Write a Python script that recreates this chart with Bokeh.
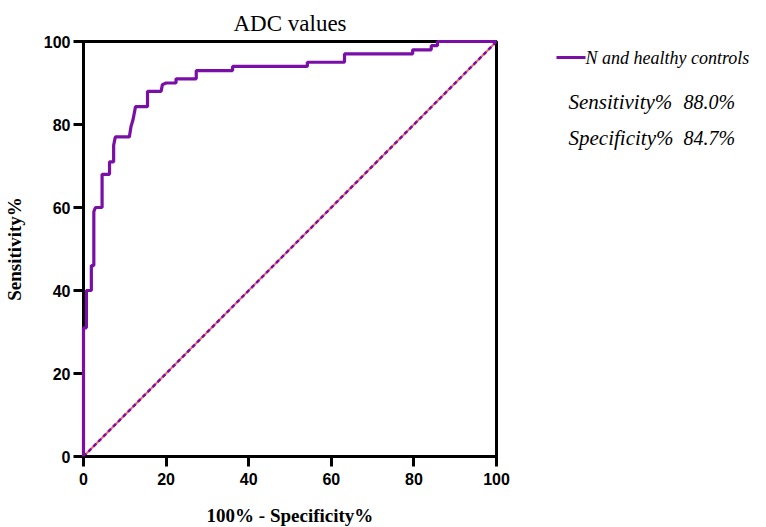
from bokeh.plotting import figure
from bokeh.layouts import row
from bokeh.models import Range1d, FixedTicker
from bokeh.core.properties import value
from bokeh.embed import file_html
from bokeh.resources import INLINE

# ROC curve (100% - Specificity%, Sensitivity%)
fpr = [0, 0, 0.7, 0.7, 1.9, 1.9, 2.5, 2.5, 2.9, 4.5,
       4.5, 6.3, 6.3, 7.3, 7.3, 7.7, 11.1, 11.5, 12.0, 12.6,
       15.5, 15.5, 18.8, 19.1, 20.0, 22.4, 22.4, 27.3, 27.3, 36.1,
       36.1, 54.2, 54.2, 63.2, 63.2, 79.7, 79.7, 84.2, 84.2, 85.7,
       85.7, 100]
tpr = [0, 31, 31, 40, 40, 46, 46, 59, 60, 60,
       68, 68, 71, 71, 75, 77, 77, 79.5, 81.2, 84.3,
       84.3, 88, 88, 89.6, 90, 90, 91, 91, 93, 93,
       94, 94, 95, 95, 97, 97, 98, 98, 99, 99,
       100, 100]
diag_x = [0, 100]
diag_y = [0, 100]
x_ticks = [0, 20, 40, 60, 80, 100]
y_ticks = [0, 20, 40, 60, 80, 100]
title_text = "ADC values"
x_label = "100% - Specificity%"
y_label = "Sensitivity%"
series_name = "N and healthy controls"
stat_names = ["Sensitivity%", "Specificity%"]
stat_values = ["88.0%", "84.7%"]

PURPLE = "#7a0fa6"
SERIF = "Liberation Serif"
SANS = "Liberation Sans"

p = figure(frame_width=413, frame_height=415, output_backend="svg",
           toolbar_location=None,
           x_range=Range1d(0, 100), y_range=Range1d(0, 100),
           min_border_left=77, min_border_right=16, min_border_top=41,
           min_border_bottom=57, title=title_text)

p.title.align = "center"
p.title.text_font = SERIF
p.title.text_font_style = "normal"
p.title.text_font_size = "23px"
p.title.text_color = "black"
p.title.standoff = 12

p.xgrid.visible = False
p.ygrid.visible = False
p.outline_line_color = "black"
p.outline_line_width = 3
p.outline_line_alpha = 1

for ax, ticks in ((p.xaxis, x_ticks), (p.yaxis, y_ticks)):
    ax.ticker = FixedTicker(ticks=ticks)
    ax.axis_line_width = 3
    ax.axis_line_color = "black"
    ax.major_tick_line_width = 3
    ax.major_tick_line_color = "black"
    ax.major_tick_out = 10
    ax.major_tick_in = 0
    ax.minor_tick_line_color = None
    ax.major_label_text_font = SANS
    ax.major_label_text_font_style = "bold"
    ax.major_label_text_font_size = "16px"
    ax.major_label_text_color = "black"
    ax.axis_label_text_font = SERIF
    ax.axis_label_text_font_style = "bold"
    ax.axis_label_text_font_size = "19px"
    ax.axis_label_text_color = "black"

p.xaxis.axis_label = x_label
p.yaxis.axis_label = y_label
p.xaxis.major_label_standoff = 6
p.yaxis.major_label_standoff = 3
p.xaxis.axis_label_standoff = 17
p.yaxis.axis_label_standoff = 16

# chance line: red under purple dashes
p.line(diag_x, diag_y, line_color="#f06a6a", line_width=2)
p.line(diag_x, diag_y, line_color=PURPLE, line_width=2.5, line_dash="4 3")

p.line(fpr, tpr, line_color=PURPLE, line_width=3.2, level="overlay")

# side panel with legend and statistics, in page pixel coordinates (y down);
# its frame is aligned with the main plot frame by the row layout
q = figure(frame_width=245, frame_height=415, output_backend="svg",
           toolbar_location=None, x_range=Range1d(514, 759),
           y_range=Range1d(457, 42), min_border=0, title=None,
           x_axis_type=None, y_axis_type=None)
q.xgrid.visible = False
q.ygrid.visible = False
q.outline_line_color = None

# legend swatch + label
q.line([558, 587], [58, 58], line_color=PURPLE, line_width=3)
q.text(x=[587], y=[58], text=[series_name], text_baseline="middle",
       text_font=value(SERIF), text_font_style="italic", text_font_size="18px",
       text_color="black")

stat_y = [102, 138]
q.text(x=[570] * len(stat_names), y=stat_y, text=stat_names,
       text_baseline="middle", text_font=value(SERIF), text_font_style="italic",
       text_font_size="21px", text_color="black")
q.text(x=[685] * len(stat_values), y=stat_y, text=stat_values,
       text_baseline="middle", text_font=value(SERIF), text_font_style="italic",
       text_font_size="20px", text_color="black")

layout = row(p, q)
open("out.html", "w").write(file_html(layout, INLINE))
